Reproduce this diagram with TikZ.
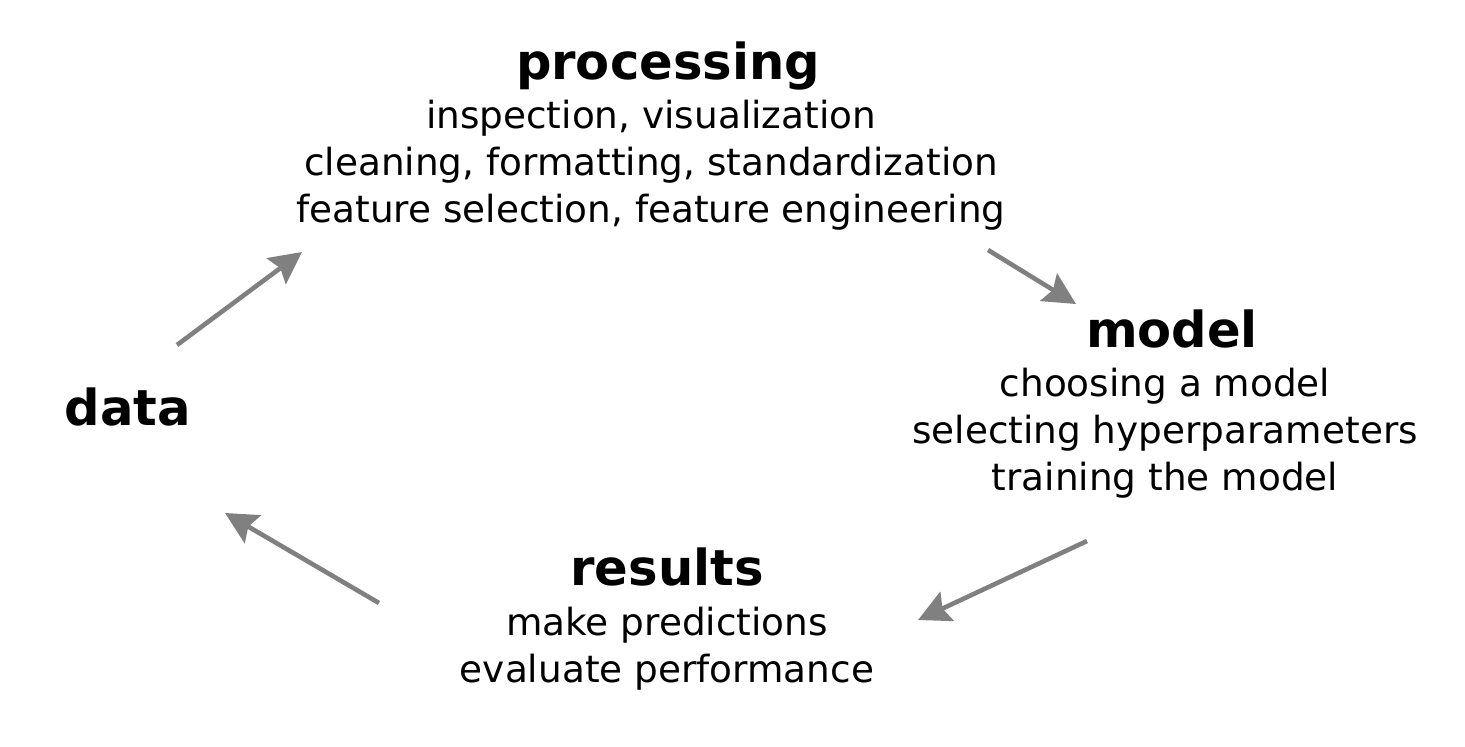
\documentclass[tikz,border=0pt]{standalone}
\usepackage{fontspec}
\setmainfont{DejaVu Sans}
\usetikzlibrary{positioning,arrows.meta}
\definecolor{flowgrey}{RGB}{128,128,128}
\tikzset{
  stage/.style={align=center, anchor=base, inner sep=0pt,
                font=\fontsize{37.4}{47}\selectfont},
  head/.style={anchor=base, inner sep=0pt,
               font=\fontsize{49.6}{52}\selectfont\bfseries},
  flow/.style={-{Stealth[length=32pt, width=32pt, inset=5pt]}, line width=4.6pt, color=flowgrey},
}
\begin{document}
\begin{tikzpicture}[x=1pt, y=-1pt]
\useasboundingbox (0,0) rectangle (1465,747);
% stage headings
\node[head] (proc) at (668,79) {processing};
\node[head] (model) at (1172,347) {model};
\node[head] (res) at (667,585) {results};
\node[head] (data) at (128,425) {data};
% stage details (anchored at last baseline)
\node[stage] (proctxt) at (651,222) {inspection, visualization\\
  cleaning, formatting, standardization\\feature selection, feature engineering};
\node[stage] (modeltxt) at (1165,490) {choosing a model\\selecting hyperparameters\\training the model};
\node[stage] (restxt) at (667,682) {make predictions\\evaluate performance};
% arrow ends
\coordinate (d1) at (177,345);
\coordinate (p0) at (302,252);
\coordinate (p1) at (988,250);
\coordinate (m0) at (1076,304);
\coordinate (m1) at (1087,541);
\coordinate (r0) at (918,620);
\coordinate (r1) at (379,603);
\coordinate (d0) at (225,513);
\draw[flow] (d1) -- (p0);
\draw[flow] (p1) -- (m0);
\draw[flow] (m1) -- (r0);
\draw[flow] (r1) -- (d0);
\end{tikzpicture}
\end{document}
